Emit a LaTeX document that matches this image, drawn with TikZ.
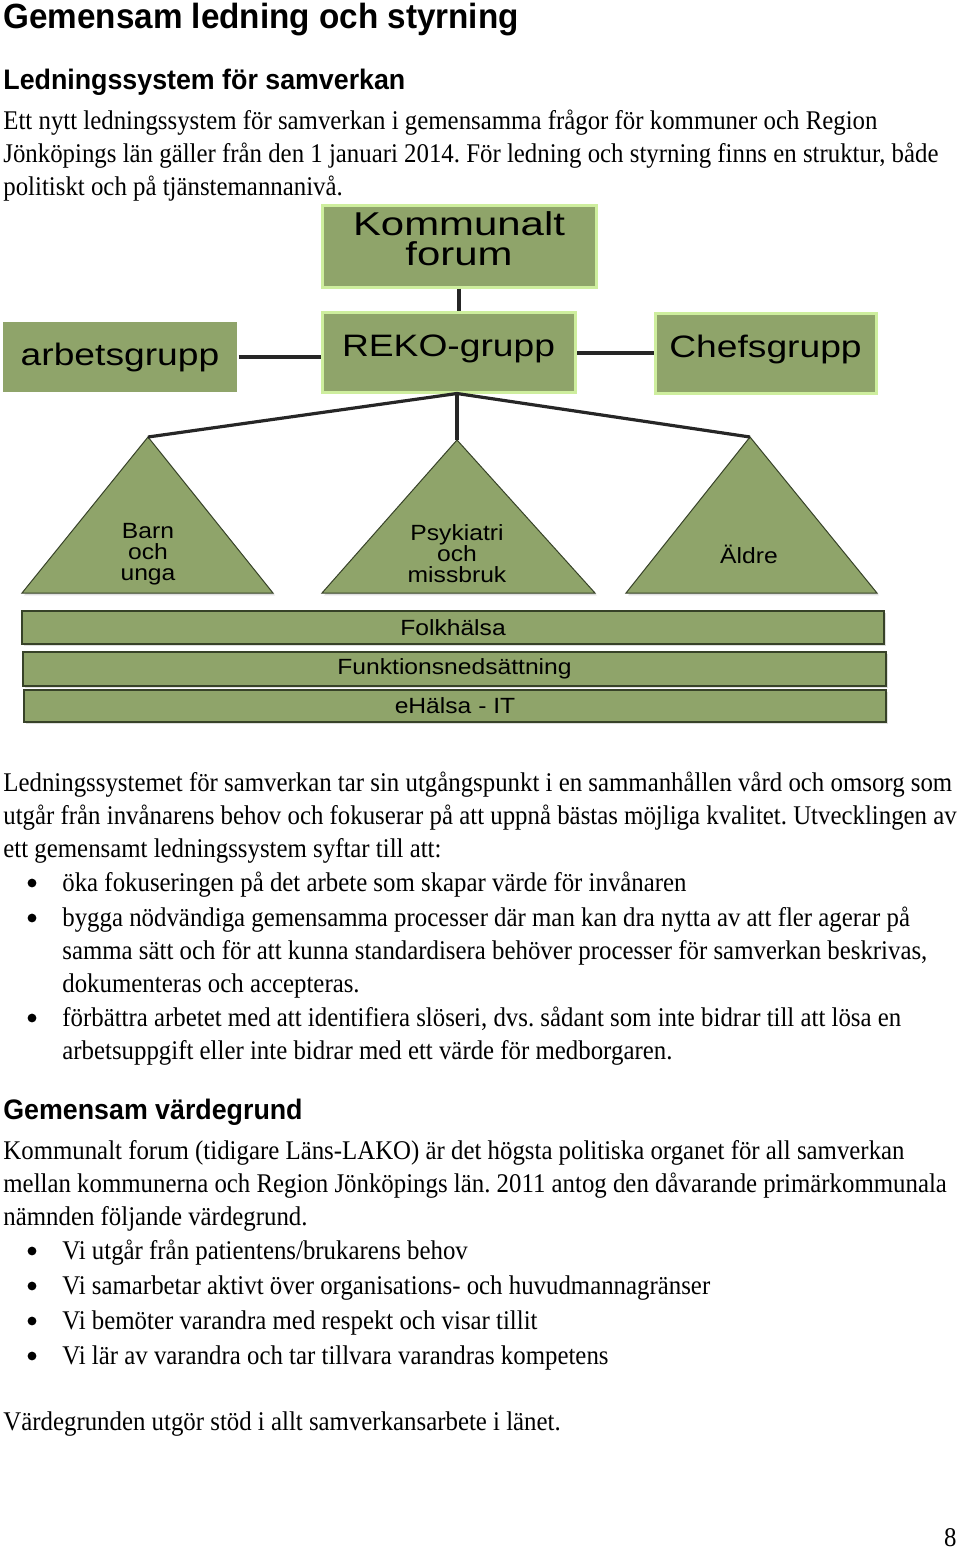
\documentclass[tikz,border=0pt]{standalone}
\usepackage{fontspec}
\setmainfont{Liberation Serif}[FakeStretch=0.92]
\newfontfamily\headfont{Liberation Sans}[FakeStretch=0.95]
\newfontfamily\boxfont{Liberation Sans}[FakeStretch=1.2]
\newfontfamily\wideboxfont{Liberation Sans}[FakeStretch=1.27]
\newfontfamily\trifont{Liberation Sans}[FakeStretch=1.12]
\usepackage{tikz}
\usetikzlibrary{positioning,shadows}
\definecolor{OliveBox}{RGB}{143,164,106}
\definecolor{LimeEdge}{RGB}{206,238,158}
\definecolor{DarkEdge}{RGB}{55,66,40}
\frenchspacing

\begin{document}
\begin{tikzpicture}[x=0.5pt, y=-0.5pt,
    groupbox/.style={fill=OliveBox, draw=LimeEdge, line width=1.5pt, align=center, font=\boxfont\fontsize{15.5}{15}\selectfont, inner sep=0pt},
    layerbar/.style={fill=OliveBox, draw=DarkEdge, line width=0.9pt, inner sep=0pt, font=\trifont\fontsize{11}{11}\selectfont, drop shadow={shadow xshift=1pt, shadow yshift=-1.2pt, opacity=0.25}},
    area/.style={fill=OliveBox, draw=DarkEdge, line width=0.5pt, drop shadow={shadow xshift=1pt, shadow yshift=-1.2pt, opacity=0.25}},
    arealabel/.style={align=center, font=\trifont\fontsize{11}{10.5}\selectfont, inner sep=0pt},
    link/.style={line width=1.6pt, black!85},
    bodyline/.style={anchor=base west, inner sep=0pt, font=\fontsize{13.5}{13.5}\selectfont},
    bulletdot/.style={circle, fill=black, inner sep=0pt, minimum size=4.4pt}]
    \useasboundingbox [fill=white] (0,0) rectangle (960,1549);

    %% Headings
    \node [anchor=base west, inner sep=0pt, font=\headfont\bfseries\fontsize{17.5}{17.5}\selectfont] (h1) at (3,28) {Gemensam ledning och styrning};
    \node [anchor=base west, inner sep=0pt, font=\headfont\bfseries\fontsize{14.1}{14.1}\selectfont] (h2) at (3,89) {Ledningssystem för samverkan};
    \node [anchor=base west, inner sep=0pt, font=\headfont\bfseries\fontsize{14.1}{14.1}\selectfont] (h3) at (3,1119) {Gemensam värdegrund};

    %% Text
    \foreach \yy/\txt [count=\i] in {129/{Ett nytt ledningssystem för samverkan i gemensamma frågor för kommuner och Region},
        162/{Jönköpings län gäller från den 1 januari 2014. För ledning och styrning finns en struktur, både},
        195/{politiskt och på tjänstemannanivå.},
        791/{Ledningssystemet för samverkan tar sin utgångspunkt i en sammanhållen vård och omsorg som},
        824/{utgår från invånarens behov och fokuserar på att uppnå bästas möjliga kvalitet. Utvecklingen av},
        857/{ett gemensamt ledningssystem syftar till att:},
        1159/{Kommunalt forum (tidigare Läns-LAKO) är det högsta politiska organet för all samverkan},
        1192/{mellan kommunerna och Region Jönköpings län. 2011 antog den dåvarande primärkommunala},
        1225/{nämnden följande värdegrund.},
        1430/{Värdegrunden utgör stöd i allt samverkansarbete i länet.}}
        \node [bodyline] (par\i) at (3,\yy) {\txt};
    \foreach \yy/\txt [count=\i] in {891/{öka fokuseringen på det arbete som skapar värde för invånaren},
        926/{bygga nödvändiga gemensamma processer där man kan dra nytta av att fler agerar på},
        1026/{förbättra arbetet med att identifiera slöseri, dvs. sådant som inte bidrar till att lösa en},
        1259/{Vi utgår från patientens/brukarens behov},
        1294/{Vi samarbetar aktivt över organisations- och huvudmannagränser},
        1329/{Vi bemöter varandra med respekt och visar tillit},
        1364/{Vi lär av varandra och tar tillvara varandras kompetens}}
        {
        \node [bodyline] (item\i) at (62,\yy) {\txt};
        \node [bulletdot] (dot\i) at (32,\yy-8) {};
        }
    \foreach \yy/\txt [count=\i] in {959/{samma sätt och för att kunna standardisera behöver processer för samverkan beskrivas,},
        992/{dokumenteras och accepteras.},
        1059/{arbetsuppgift eller inte bidrar med ett värde för medborgaren.}}
        \node [bodyline] (cont\i) at (62,\yy) {\txt};
    \node [anchor=base east, inner sep=0pt, font=\fontsize{13.5}{13.5}\selectfont] (pageno) at (957,1546) {8};

    %% Boxes
    \node [groupbox, font=\wideboxfont\fontsize{16.5}{15}\selectfont, text depth=7pt, minimum width=137pt, minimum height=41pt] (kom) at (459,246) {Kommunalt\\forum};
    \node [groupbox, text depth=6.3pt, minimum width=126.5pt, minimum height=40pt] (reko) at (448.5,352) {REKO-grupp};
    \node [groupbox, draw=none, minimum width=117pt, minimum height=35pt] (arb) at (120,357) {arbetsgrupp};
    \node [groupbox, text depth=6.3pt, minimum width=110.5pt, minimum height=40pt] (chef) at (765.5,353) {Chefsgrupp};

    %% Triangles
    \coordinate (barntop) at (148,437);
    \coordinate (psyktop) at (457,440);
    \coordinate (aldretop) at (750,437);
    \draw [area] (barntop) -- (273,593) -- (22,593) -- cycle;
    \draw [area] (psyktop) -- (595,593) -- (322,593) -- cycle;
    \draw [area] (aldretop) -- (877,593) -- (626,593) -- cycle;
    \node [arealabel] (barn) at (148,554) {Barn\\och\\unga};
    \node [arealabel] (psyk) at (457,554) {Psykiatri\\och\\missbruk};
    \node [arealabel] (aldre) at (749,554) {Äldre};

    %% Bars
    \node [layerbar, minimum width=431pt, minimum height=16.5pt] (folk) at (453,627.5) {Folkhälsa};
    \node [layerbar, minimum width=431.5pt, minimum height=17pt] (funk) at (454.5,669) {Funktionsnedsättning};
    \node [layerbar, minimum width=431pt, minimum height=16pt] (ehal) at (455,706) {eHälsa - IT};

    %% Lines
    \draw [link] (kom.south) -- (kom.south |- reko.north);
    \draw [link] (arb.east) -- (arb.east -| reko.west);
    \draw [link] (chef.west) -- (chef.west -| reko.east);
    \draw [link] (reko.south -| psyktop) -- (barntop);
    \draw [link] (reko.south -| psyktop) -- (psyktop);
    \draw [link] (reko.south -| psyktop) -- (aldretop);
\end{tikzpicture}
\end{document}
